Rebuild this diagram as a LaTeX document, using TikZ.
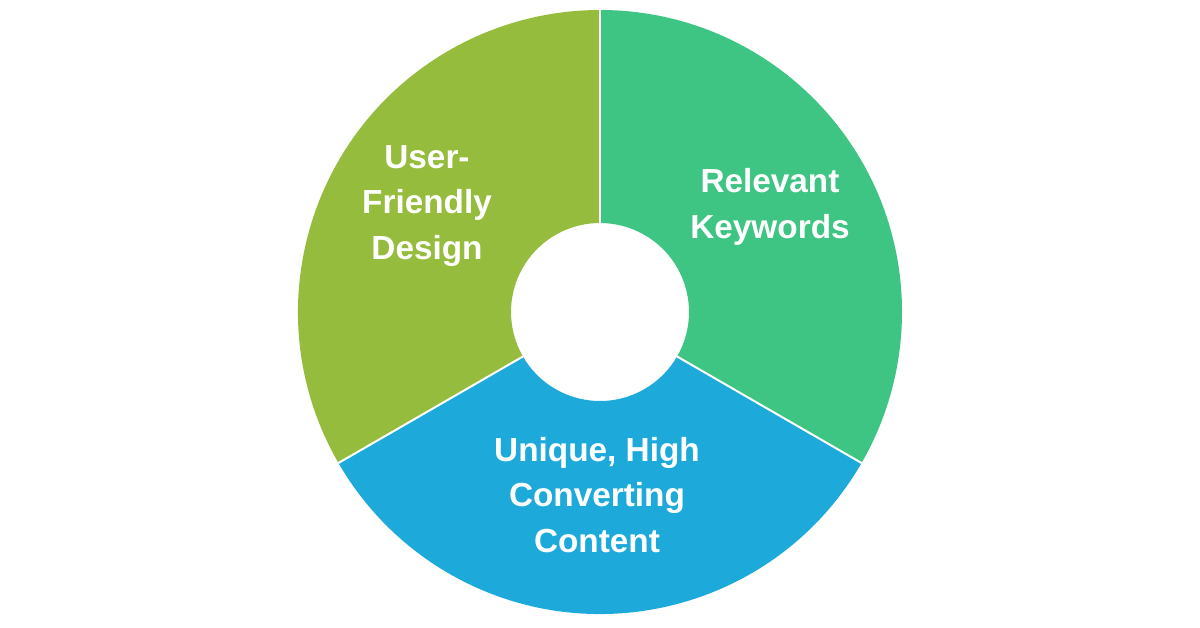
\documentclass[tikz,border=0pt]{standalone}
\usepackage{fontspec}
\setmainfont{Liberation Sans}
\definecolor{segolive}{HTML}{95BC3C}
\definecolor{seggreen}{HTML}{3EC483}
\definecolor{segblue}{HTML}{1DAADB}
\tikzset{
  seg/.style={draw=white, line width=1.5},
  lbl/.style={text=white, font=\fontsize{25}{34}\selectfont\bfseries, align=center}
}
\begin{document}
\begin{tikzpicture}[x=0.75pt, y=-0.75pt]
\useasboundingbox (0,0) rectangle (1200,628);
\coordinate (c) at (600,312);
% Segments (y axis points down, so angles run clockwise)
\fill[seggreen] (c) ++(-90:89) -- ++(-90:213) arc[start angle=-90, end angle=30, radius=302] -- ++(210:213) arc[start angle=30, end angle=-90, radius=89] -- cycle;
\fill[segblue] (c) ++(30:89) -- ++(30:213) arc[start angle=30, end angle=150, radius=302] -- ++(330:213) arc[start angle=150, end angle=30, radius=89] -- cycle;
\fill[segolive] (c) ++(150:89) -- ++(150:213) arc[start angle=150, end angle=270, radius=302] -- ++(90:213) arc[start angle=270, end angle=150, radius=89] -- cycle;
% Separators
\foreach \a in {-90,30,150}
  \draw[seg] (c) ++(\a:89) -- ++(\a:213);
% Labels
\node[lbl] (ufd) at (427,206) {User-\\Friendly\\Design};
\node[lbl] (rk) at (770,207) {Relevant\\Keywords};
\node[lbl] (uhc) at (597,495) {Unique, High\\Converting\\Content};
\end{tikzpicture}
\end{document}
